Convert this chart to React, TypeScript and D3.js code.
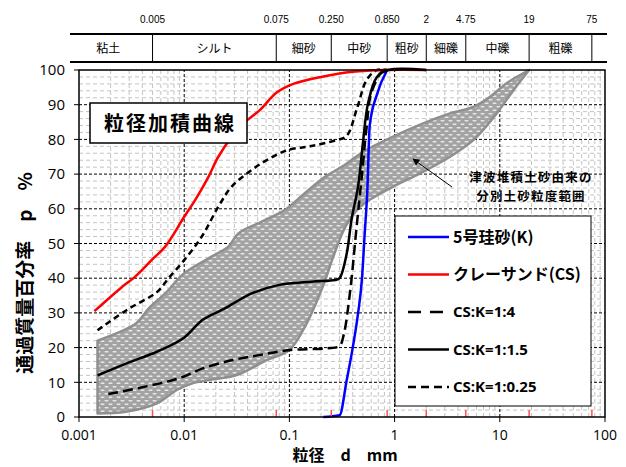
import React from "react";
import * as d3 from "d3";

// 粒径 (mm) / 通過質量百分率 (%)
const redD = [0.0014, 0.0025, 0.0034, 0.005, 0.0066, 0.01, 0.0127, 0.017, 0.0211, 0.0339, 0.0526, 0.0757, 0.109, 0.2, 0.4, 0.85, 2];
const redP = [30.5, 37.2, 40.4, 45.5, 49.1, 57.7, 62.5, 69.2, 75, 83.7, 88.5, 93.5, 96, 98, 99.5, 100, 100];

const blueD = [0.21, 0.3, 0.35, 0.4, 0.45, 0.49, 0.52, 0.55, 0.58, 0.68, 0.85];
const blueP = [0, 0.5, 10.5, 20, 30, 40, 53, 65, 84, 93, 100];

const k15D = [0.0015, 0.0028, 0.0055, 0.0098, 0.015, 0.0244, 0.0438, 0.0785, 0.163, 0.272, 0.3, 0.35, 0.39, 0.45, 0.5, 0.56, 0.68, 0.87, 2];
const k15P = [12, 15.4, 18.8, 22.7, 28, 31.3, 35.6, 38, 39, 39.5, 40, 47, 57, 66.5, 79, 90.5, 98, 100, 100];

const k4D = [0.0019, 0.0059, 0.0098, 0.015, 0.029, 0.053, 0.1, 0.226, 0.3, 0.33, 0.377, 0.436, 0.487, 0.543, 0.6, 0.78, 0.85];
const k4P = [6.6, 9.7, 11.6, 14, 16.4, 17.9, 19.3, 19.8, 20.5, 24, 36, 55, 69.2, 83.7, 93.3, 100, 100];

const k025D = [0.0015, 0.0029, 0.0055, 0.0071, 0.01, 0.0147, 0.0211, 0.0283, 0.0438, 0.065, 0.098, 0.157, 0.28, 0.35, 0.44, 0.54, 0.68, 0.85];
const k025P = [25, 31, 36, 40, 45.2, 52, 60.6, 66.4, 71.2, 74.5, 77, 78, 79.8, 81, 89, 97, 100, 100];

const bandUpD = [0.0015, 0.0035, 0.0046, 0.0068, 0.01, 0.0182, 0.0263, 0.0327, 0.0546, 0.0908, 0.14, 0.218, 0.314, 0.54, 0.97, 1.87, 3.36, 5.6, 8.1, 11.6, 19];
const bandUpP = [22, 27, 31.3, 36, 41.4, 46.2, 49.1, 52.9, 56.3, 59.7, 64.5, 69.2, 72.1, 77, 80.8, 84.6, 87.5, 89.4, 92.3, 96.2, 100];
const bandLoD = [0.0015, 0.0028, 0.0055, 0.0085, 0.012, 0.0176, 0.0316, 0.061, 0.1, 0.146, 0.21, 0.26, 0.34, 0.47, 0.97, 1.75, 3.36, 5.6, 8.8, 13.5, 19];
const bandLoP = [1, 1.5, 3.9, 7.8, 9.7, 10.7, 12.1, 16.4, 19.3, 27, 38, 46, 54.8, 60.6, 66.4, 70.2, 75, 79.8, 86.5, 94.2, 100];

const bounds = [0.005, 0.075, 0.25, 0.85, 2, 4.75, 19, 75];
const boundLabels = ["0.005", "0.075", "0.250", "0.850", "2", "4.75", "19", "75"];
const classes = ["粘土", "シルト", "細砂", "中砂", "粗砂", "細礫", "中礫", "粗礫"];

const xTicks = [0.001, 0.01, 0.1, 1, 10, 100];
const xTickLabels = ["0.001", "0.01", "0.1", "1", "10", "100"];
const yTicks = [0, 10, 20, 30, 40, 50, 60, 70, 80, 90, 100];

const legendItems = [
  { label: "5号珪砂(K)", color: "#0000ff", dash: "", jp: true },
  { label: "クレーサンド(CS)", color: "#ff0000", dash: "", jp: true },
  { label: "CS:K=1:4", color: "#000", dash: "13,9", jp: false },
  { label: "CS:K=1:1.5", color: "#000", dash: "", jp: false },
  { label: "CS:K=1:0.25", color: "#000", dash: "8,5", jp: false },
];

const zip = (ds: number[], ps: number[]) => ds.map((d, i) => [d, ps[i]] as [number, number]);

const JP = "'Noto Sans CJK JP', sans-serif";
const NUM = "'Open Sans', 'Noto Sans', sans-serif";

export default function App() {
  const width = 626;
  const height = 467;
  const x = d3.scaleLog().domain([0.001, 100]).range([79, 605]);
  const y = d3.scaleLinear().domain([0, 100]).range([417, 70]);
  const [x0, x1] = x.range();
  const [y0, y1] = y.range();

  // smoothed lines like the spreadsheet's "smooth line" option
  const cr = d3
    .line<[number, number]>()
    .x((d) => x(d[0]))
    .y((d) => y(d[1]))
    .curve(d3.curveCatmullRom.alpha(0.5));

  const mono = d3
    .line<[number, number]>()
    .x((d) => x(d[0]))
    .y((d) => y(d[1]))
    .curve(d3.curveMonotoneX);

  const upPath = cr(zip(bandUpD, bandUpP)) || "";
  const loPath = (cr(zip(bandLoD, bandLoP).reverse()) || "").replace(/^M/, "L");
  const bandPath = upPath + loPath + "Z";

  const minorX: number[] = [];
  for (let k = -3; k <= 1; k++) for (let m = 2; m <= 9; m++) minorX.push(m * Math.pow(10, k));
  const minorY = d3.range(2, 100, 2).filter((v) => v % 10 !== 0);

  const tblTop = 34;
  const tblBot = 62;
  const tblLeft = 70;
  const tblRight = 607;
  const cellEdges = [tblLeft, ...bounds.map((b) => x(b)), tblRight];

  return (
    <svg width={width} height={height} style={{ position: "absolute", left: 0, top: 0, background: "#fff" }}>
      <defs>
        <pattern id="dots" width="8" height="7" patternUnits="userSpaceOnUse">
          <rect width="8" height="7" fill="#a3a3a3" />
          <rect x="0.5" y="1" width="4" height="1.6" rx="0.8" fill="#e8e8e8" />
          <rect x="4.5" y="4.5" width="4" height="1.6" rx="0.8" fill="#e8e8e8" />
          <rect x="-3.5" y="4.5" width="4" height="1.6" rx="0.8" fill="#e8e8e8" />
        </pattern>
        <marker id="arr" viewBox="0 0 10 10" refX="9" refY="5" markerWidth="7" markerHeight="7" orient="auto">
          <path d="M0,0 L10,5 L0,10 Z" fill="#000" />
        </marker>
      </defs>

      {/* minor grid */}
      <g stroke="#c4c4c4" strokeWidth={1} strokeDasharray="4,3">
        {minorX.map((v) => (
          <line key={"mx" + v} x1={x(v)} x2={x(v)} y1={y0} y2={y1} />
        ))}
        {minorY.map((v) => (
          <line key={"my" + v} x1={x0} x2={x1} y1={y(v)} y2={y(v)} />
        ))}
      </g>
      {/* major grid */}
      <g stroke="#000" strokeWidth={1} strokeDasharray="3,2">
        {xTicks.slice(1, -1).map((v) => (
          <line key={"gx" + v} x1={x(v)} x2={x(v)} y1={y0} y2={y1} />
        ))}
        {yTicks.slice(1, -1).map((v) => (
          <line key={"gy" + v} x1={x0} x2={x1} y1={y(v)} y2={y(v)} />
        ))}
      </g>

      {/* band */}
      <path d={bandPath} fill="url(#dots)" stroke="#8f8f8f" strokeWidth={2.5} strokeLinejoin="round" />

      {/* curves */}
      <path d={cr(zip(k4D, k4P)) || ""} fill="none" stroke="#000" strokeWidth={2.5} strokeDasharray="10,5" />
      <path d={cr(zip(k025D, k025P)) || ""} fill="none" stroke="#000" strokeWidth={2.5} strokeDasharray="6,4" />
      <path d={cr(zip(redD, redP)) || ""} fill="none" stroke="#ff0000" strokeWidth={2.5} />
      <path d={mono(zip(blueD, blueP)) || ""} fill="none" stroke="#0000ff" strokeWidth={2.5} />
      <path d={cr(zip(k15D, k15P)) || ""} fill="none" stroke="#000" strokeWidth={2.5} />

      {/* red boundary ticks */}
      <g stroke="#ff5050" strokeWidth={1.5}>
        {bounds.map((b) => (
          <line key={"rt" + b} x1={x(b)} x2={x(b)} y1={y0} y2={y0 - 7} />
        ))}
      </g>

      {/* plot frame & axes */}
      <rect x={x0} y={y1} width={x1 - x0} height={y0 - y1} fill="none" stroke="#000" strokeWidth={1.5} />
      <g stroke="#000" strokeWidth={1}>
        {xTicks.map((v) => (
          <line key={"xt" + v} x1={x(v)} x2={x(v)} y1={y0} y2={y0 + 5} />
        ))}
        {yTicks.map((v) => (
          <line key={"yt" + v} x1={x0 - 5} x2={x0} y1={y(v)} y2={y(v)} />
        ))}
      </g>
      <g fontFamily={NUM} fontSize={14} fill="#000">
        {xTicks.map((v, i) => (
          <text key={"xl" + v} x={x(v)} y={440} textAnchor="middle">
            {xTickLabels[i]}
          </text>
        ))}
        {yTicks.map((v) => (
          <text key={"yl" + v} x={65} y={y(v)} dy="0.35em" textAnchor="end" fontSize={15}>
            {v}
          </text>
        ))}
      </g>

      {/* axis titles */}
      <text x={345} y={461} textAnchor="middle" fontFamily={JP} fontWeight="bold" fontSize={16} style={{ whiteSpace: "pre" }}>
        {"粒径　d　mm"}
      </text>
      <text
        transform="translate(32,273) rotate(-90)"
        textAnchor="middle"
        fontFamily={JP}
        fontWeight="bold"
        fontSize={19}
        style={{ whiteSpace: "pre" }}
      >
        {"通過質量百分率　p　%"}
      </text>

      {/* top classification table */}
      <g stroke="#000">
        <line x1={tblLeft} x2={tblRight} y1={tblTop} y2={tblTop} strokeWidth={2} />
        <line x1={tblLeft} x2={tblRight} y1={tblBot} y2={tblBot} strokeWidth={2} />
        {bounds.map((b) => (
          <line key={"tv" + b} x1={x(b)} x2={x(b)} y1={tblTop} y2={tblBot} strokeWidth={1} />
        ))}
      </g>
      <g fontFamily="'Liberation Sans Narrow', 'Liberation Sans', sans-serif" fontSize={10} fill="#000">
        {bounds.map((b, i) => (
          <text key={"bl" + b} x={x(b)} y={23} textAnchor="middle">
            {boundLabels[i]}
          </text>
        ))}
      </g>
      <g fontFamily={JP} fontSize={12} fill="#000">
        {classes.map((c, i) => (
          <text key={c} x={(cellEdges[i] + cellEdges[i + 1]) / 2 - (i === 0 ? 3 : 0)} y={53} textAnchor="middle">
            {c}
          </text>
        ))}
      </g>

      {/* title box */}
      <rect x={90} y={103} width={157} height={40} fill="#fff" stroke="#000" strokeWidth={1.5} />
      <text x={170} y={131} textAnchor="middle" fontFamily={JP} fontWeight="bold" fontSize={20} letterSpacing={2}>
        粒径加積曲線
      </text>

      {/* annotation */}
      <line x1={452} y1={187} x2={413} y2={159} stroke="#000" strokeWidth={1} markerEnd="url(#arr)" />
      <g fontFamily={JP} fontWeight="bold" fontSize={12.5} fill="#000" textAnchor="middle" letterSpacing={1.2}>
        <text x={531} y={182}>津波堆積土砂由来の</text>
        <text x={531} y={201}>分別土砂粒度範囲</text>
      </g>

      {/* legend */}
      <rect x={395} y={216} width={196} height={190} fill="#fff" stroke="#000" strokeWidth={1} />
      {legendItems.map((it, i) => {
        const ly = 237 + i * 37.5;
        return (
          <g key={it.label}>
            <line x1={408} x2={449} y1={ly} y2={ly} stroke={it.color} strokeWidth={2.5} strokeDasharray={it.dash || undefined} />
            <text
              x={453}
              y={ly}
              dy="0.36em"
              fontFamily={it.jp ? JP : NUM}
              fontWeight="bold"
              fontSize={it.jp ? 16 : 15}
              fill="#000"
            >
              {it.label}
            </text>
          </g>
        );
      })}
    </svg>
  );
}
